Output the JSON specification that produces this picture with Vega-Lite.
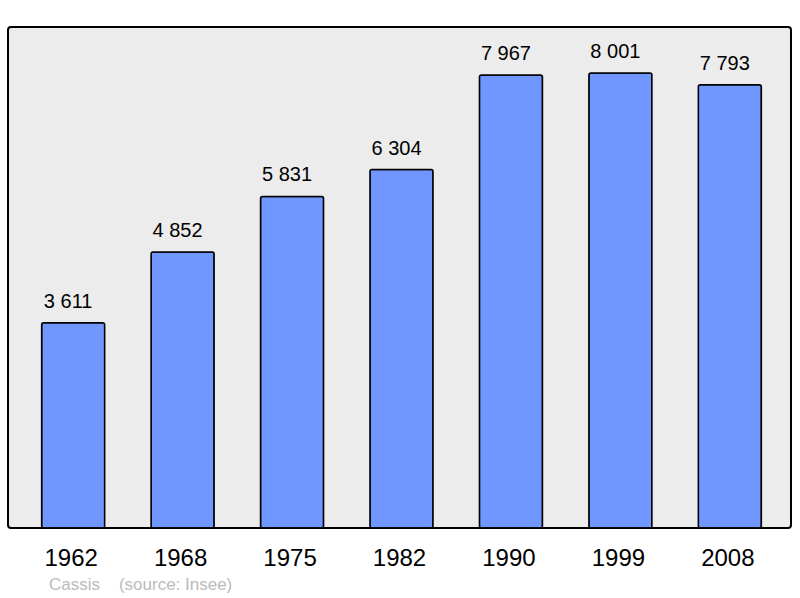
{
  "$schema": "https://vega.github.io/schema/vega-lite/v6.json",
  "width": 783,
  "height": 501,
  "autosize": "none",
  "padding": {"left": 8, "top": 27, "right": 9, "bottom": 70},
  "background": "white",
  "data": {"values": [
    {"year": "1962", "pop": 3611, "label": "3 611"},
    {"year": "1968", "pop": 4852, "label": "4 852"},
    {"year": "1975", "pop": 5831, "label": "5 831"},
    {"year": "1982", "pop": 6304, "label": "6 304"},
    {"year": "1990", "pop": 7967, "label": "7 967"},
    {"year": "1999", "pop": 8001, "label": "8 001"},
    {"year": "2008", "pop": 7793, "label": "7 793"}
  ]},
  "title": {
    "text": "Cassis\u00a0\u00a0\u00a0\u00a0(source: Insee)",
    "orient": "bottom",
    "anchor": "start",
    "frame": "group",
    "dx": 41,
    "offset": 7,
    "font": "Liberation Sans",
    "fontSize": 17,
    "fontWeight": "normal",
    "color": "#bbbbbb"
  },
  "encoding": {
    "x": {
      "field": "year", "type": "nominal", "sort": null,
      "scale": {"paddingInner": 0.424, "paddingOuter": 0.289},
      "axis": {"title": null, "domain": false, "ticks": false, "labelAngle": 0,
               "labelFontSize": 24, "labelFont": "Liberation Sans", "labelColor": "#000000", "labelPadding": 18}
    },
    "y": {
      "field": "pop", "type": "quantitative",
      "scale": {"domain": [0, 8810], "nice": false, "zero": true},
      "axis": null
    }
  },
  "layer": [
    {"mark": {"type": "bar", "fill": "#7097ff", "stroke": "#000000", "strokeWidth": 1.5, "cornerRadius": 2, "xOffset": 2}},
    {"mark": {"type": "text", "baseline": "alphabetic", "dy": -15, "dx": -3, "fontSize": 20, "font": "Liberation Sans", "color": "#000000"},
     "encoding": {"text": {"field": "label"}}}
  ],
  "config": {
    "view": {"fill": "#ececec", "stroke": "#000000", "strokeWidth": 2, "cornerRadius": 3}
  }
}
